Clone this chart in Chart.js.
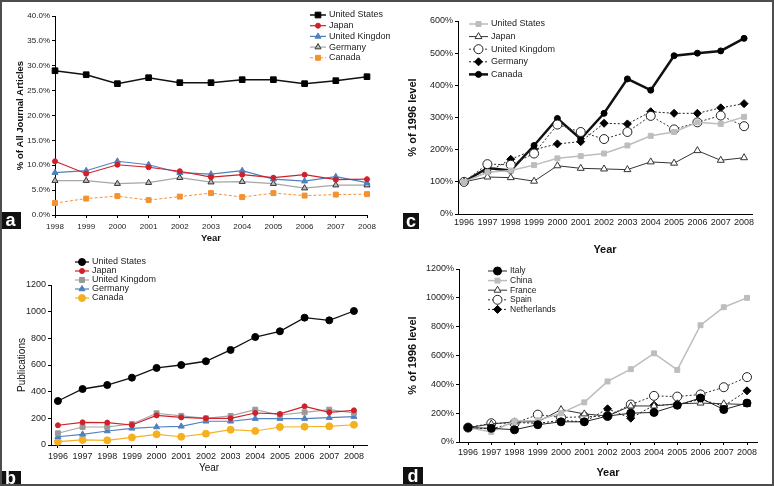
<!DOCTYPE html>
<html>
<head>
<meta charset="utf-8">
<script src="https://cdn.jsdelivr.net/npm/chart.js@4.4.1/dist/chart.umd.min.js"></script>
<style>
body { margin:0; background:#fff; width:774px; height:486px; position:relative; overflow:hidden; }
canvas { position:absolute; }
.frame { position:absolute; left:0; top:0; width:774px; height:486px; box-sizing:border-box; border:2px solid #4d4d4d; pointer-events:none; }
.tag { position:absolute; background:#111; color:#fff; font:bold 18px "Liberation Sans", Arial, sans-serif; text-align:center; }
</style>
</head>
<body>
<canvas id="chartA" width="390" height="245" style="left:0;top:0"></canvas>
<canvas id="chartC" width="384" height="258" style="left:390px;top:0"></canvas>
<canvas id="chartB" width="390" height="241" style="left:0;top:245px"></canvas>
<canvas id="chartD" width="384" height="241" style="left:390px;top:245px"></canvas>
<div class="tag" style="left:0;top:212px;width:21px;height:17px;line-height:17px">a</div>
<div class="tag" style="left:0;top:471px;width:21px;height:15px;line-height:15px">b</div>
<div class="tag" style="left:403px;top:213px;width:16px;height:16px;line-height:16px">c</div>
<div class="tag" style="left:403px;top:467px;width:20px;height:19px;line-height:19px">d</div>
<div class="frame"></div>
<script>
// years
const yearsA = [1998, 1999, 2000, 2001, 2002, 2003, 2004, 2005, 2006, 2007, 2008];
const years = [1996, 1997, 1998, 1999, 2000, 2001, 2002, 2003, 2004, 2005, 2006, 2007, 2008];

// a: share of all journal articles (%)
const shareUS = [29.0, 28.2, 26.4, 27.6, 26.6, 26.6, 27.2, 27.2, 26.4, 27.0, 27.8];
const shareJapan = [10.8, 8.3, 10.1, 9.6, 8.8, 7.6, 8.1, 7.5, 8.1, 7.1, 7.2];
const shareUK = [8.5, 8.9, 10.8, 10.1, 8.5, 8.2, 8.9, 7.2, 6.8, 7.7, 6.5];
const shareGermany = [6.9, 6.9, 6.3, 6.5, 7.5, 6.6, 6.7, 6.3, 5.4, 6.0, 6.0];
const shareCanada = [2.4, 3.3, 3.8, 3.0, 3.7, 4.4, 3.6, 4.4, 3.9, 4.1, 4.2];

// b: publications
const pubUS = [330, 420, 450, 505, 578, 600, 628, 713, 810, 853, 955, 935, 1005];
const pubJapan = [148, 170, 168, 150, 222, 207, 200, 200, 240, 233, 290, 245, 260];
const pubUK = [88, 135, 135, 158, 238, 218, 200, 218, 265, 225, 245, 265, 240];
const pubGermany = [62, 80, 105, 125, 135, 140, 178, 178, 198, 198, 198, 205, 213];
const pubCanada = [25, 38, 35, 57, 80, 62, 85, 115, 105, 135, 137, 140, 152];

// c: % of 1996 level
const relUS = [100, 130, 135, 152, 173, 180, 188, 213, 243, 255, 285, 280, 302];
const relJapan = [100, 115, 113, 102, 150, 142, 140, 138, 162, 158, 197, 167, 175];
const relUK = [100, 155, 153, 188, 278, 255, 233, 255, 305, 263, 285, 306, 273];
const relGermany = [100, 130, 170, 200, 218, 225, 282, 280, 318, 313, 313, 330, 343];
const relCanada = [100, 143, 135, 213, 297, 233, 313, 420, 385, 492, 500, 507, 546];

// d: % of 1996 level
const relItaly = [100, 95, 85, 120, 140, 140, 180, 200, 205, 255, 305, 225, 270];
const relChina = [100, 70, 145, 150, 200, 275, 420, 505, 615, 500, 810, 935, 1000];
const relFrance = [100, 125, 140, 140, 225, 195, 180, 250, 250, 265, 270, 265, 260];
const relSpain = [100, 130, 130, 190, 170, 175, 180, 260, 320, 315, 330, 380, 450];
const relNetherlands = [100, 90, 135, 130, 150, 140, 230, 165, 255, 260, 295, 250, 355];

const FONT = '"Liberation Sans", Arial, sans-serif';

// legend with a line sample and marker, like the original figure
const lineLegend = {
  id: 'lineLegend',
  afterDatasetsDraw(chart, args, opts) {
    const ctx = chart.ctx;
    chart.data.datasets.forEach((ds, i) => {
      const y = opts.y + i * opts.dy;
      ctx.save();
      ctx.strokeStyle = ds.borderColor;
      ctx.lineWidth = ds.borderWidth;
      ctx.setLineDash(ds.borderDash || []);
      ctx.beginPath();
      ctx.moveTo(opts.x, y);
      ctx.lineTo(opts.x + opts.len, y);
      ctx.stroke();
      ctx.setLineDash([]);
      ctx.fillStyle = ds.pointBackgroundColor;
      ctx.strokeStyle = ds.pointBorderColor;
      ctx.lineWidth = ds.pointBorderWidth;
      Chart.helpers.drawPoint(ctx, {
        pointStyle: ds.pointStyle, radius: ds.pointRadius, rotation: 0, borderWidth: ds.pointBorderWidth
      }, opts.x + opts.len / 2, y);
      ctx.fillStyle = '#222';
      ctx.font = opts.font;
      ctx.textBaseline = 'middle';
      ctx.textAlign = 'left';
      ctx.fillText(ds.label, opts.x + opts.len + opts.gap, y);
      ctx.restore();
    });
  }
};
Chart.register(lineLegend);

function series(label, xs, ys, st) {
  return Object.assign({
    label: label,
    data: xs.map((x, i) => ({ x: x, y: ys[i] })),
    borderWidth: 1,
    pointBorderWidth: 1,
    clip: false,
    tension: 0
  }, st, { pointHoverRadius: st.pointRadius });
}

function makeChart(id, datasets, c) {
  const canvas = document.getElementById(id);
  const w = canvas.width, h = canvas.height;
  const tickSize = c.tickSize || 9;
  return new Chart(canvas, {
    type: 'line',
    data: { datasets: datasets },
    options: {
      responsive: false,
      animation: false,
      events: [],
      layout: { padding: { left: 0, top: c.t, right: w - c.r, bottom: 0 } },
      plugins: {
        legend: { display: false },
        tooltip: { enabled: false },
        lineLegend: c.legend
      },
      scales: {
        x: {
          type: 'linear',
          min: c.xMin, max: c.xMax,
          afterBuildTicks: s => { s.ticks = c.xTicks.map(v => ({ value: v })); },
          afterFit: s => { s.height = h - c.b; },
          grid: { drawOnChartArea: false, color: '#000', tickLength: c.xTick, drawTicks: c.xTick > 0 },
          border: { color: '#000', width: 1 },
          ticks: { color: '#222', font: { family: FONT, size: tickSize }, padding: c.xPad, maxRotation: 0, autoSkip: false,
                   callback: v => String(v) },
          title: { display: true, text: 'Year', color: '#111',
                   font: { family: FONT, size: c.titleSize, weight: c.titleWeight },
                   padding: { top: 0, bottom: c.xTitlePad } }
        },
        y: {
          min: 0, max: c.yMax,
          afterFit: s => { s.width = c.l; },
          grid: { drawOnChartArea: false, color: '#000', tickLength: 3 },
          border: { color: '#000', width: 1 },
          ticks: { stepSize: c.yStep, color: '#222', font: { family: FONT, size: tickSize }, padding: c.yPad,
                   callback: c.yFmt },
          title: { display: true, text: c.yTitle, color: '#111',
                   font: { family: FONT, size: c.titleSize, weight: c.titleWeight },
                   padding: { top: c.yTitlePad, bottom: 0 } }
        }
      }
    }
  });
}

// panel a
makeChart('chartA', [
  series('United States', yearsA, shareUS, { borderColor: '#111', borderWidth: 1.5, pointStyle: 'rect', pointRadius: 4, pointBackgroundColor: '#000', pointBorderColor: '#000' }),
  series('Japan', yearsA, shareJapan, { borderColor: '#d0202a', borderWidth: 1.2, pointStyle: 'circle', pointRadius: 2.5, pointBackgroundColor: '#d0202a', pointBorderColor: '#d0202a' }),
  series('United Kingdom', yearsA, shareUK, { borderColor: '#4f81bd', borderWidth: 1.2, pointStyle: 'triangle', pointRadius: 3.5, pointBackgroundColor: '#4f81bd', pointBorderColor: '#4f81bd' }),
  series('Germany', yearsA, shareGermany, { borderColor: '#a6a6a6', borderWidth: 1.2, pointStyle: 'triangle', pointRadius: 3.5, pointBackgroundColor: '#bdbdbd', pointBorderColor: '#333' }),
  series('Canada', yearsA, shareCanada, { borderColor: '#f0923a', borderWidth: 1, borderDash: [3, 2], pointStyle: 'rect', pointRadius: 3.5, pointBackgroundColor: '#f39230', pointBorderColor: '#f39230' })
], {
  l: 55, r: 367, t: 16, b: 215, tickSize: 8,
  xMin: 1998, xMax: 2008, xTicks: yearsA, xTick: 3, xPad: 4,
  yMax: 40, yStep: 5, yFmt: v => v.toFixed(1) + '%', yPad: 2,
  yTitle: '% of All Journal Articles', yTitlePad: 15, xTitlePad: 1,
  titleSize: 9.5, titleWeight: 'bold',
  legend: { x: 310, y: 15, dy: 10.7, len: 16, gap: 3, font: '9px ' + FONT }
});

// panel b
makeChart('chartB', [
  series('United States', years, pubUS, { borderColor: '#111', borderWidth: 1.3, pointStyle: 'circle', pointRadius: 3.5, pointBackgroundColor: '#000', pointBorderColor: '#000' }),
  series('Japan', years, pubJapan, { borderColor: '#d0202a', borderWidth: 1.2, pointStyle: 'circle', pointRadius: 2.5, pointBackgroundColor: '#d0202a', pointBorderColor: '#d0202a' }),
  series('United Kingdom', years, pubUK, { borderColor: '#a6a6a6', borderWidth: 1.2, pointStyle: 'rect', pointRadius: 3.5, pointBackgroundColor: '#9a9a9a', pointBorderColor: '#9a9a9a' }),
  series('Germany', years, pubGermany, { borderColor: '#4f81bd', borderWidth: 1.2, pointStyle: 'triangle', pointRadius: 3.5, pointBackgroundColor: '#4f81bd', pointBorderColor: '#4f81bd' }),
  series('Canada', years, pubCanada, { borderColor: '#f5b020', borderWidth: 1.2, pointStyle: 'circle', pointRadius: 3.5, pointBackgroundColor: '#f5b020', pointBorderColor: '#f5b020' })
], {
  l: 51, r: 367, t: 40, b: 200,
  xMin: 1995.72, xMax: 2008.53, xTicks: years, xTick: 3, xPad: 3,
  yMax: 1200, yStep: 200, yFmt: v => String(v), yPad: 2,
  yTitle: 'Publications', yTitlePad: 16, xTitlePad: 12,
  titleSize: 10, titleWeight: 'normal',
  legend: { x: 75, y: 17, dy: 9, len: 14, gap: 3, font: '9px ' + FONT }
});

// panel c
makeChart('chartC', [
  series('United States', years, relUS, { borderColor: '#bdbdbd', borderWidth: 1.5, pointStyle: 'rect', pointRadius: 3.5, pointBackgroundColor: '#bdbdbd', pointBorderColor: '#bdbdbd' }),
  series('Japan', years, relJapan, { borderColor: '#333', borderWidth: 1, pointStyle: 'triangle', pointRadius: 4, pointBackgroundColor: '#fff', pointBorderColor: '#333' }),
  series('United Kingdom', years, relUK, { borderColor: '#333', borderWidth: 1, borderDash: [2, 2], pointStyle: 'circle', pointRadius: 4.5, pointBackgroundColor: '#fff', pointBorderColor: '#222' }),
  series('Germany', years, relGermany, { borderColor: '#222', borderWidth: 1, borderDash: [2, 2], pointStyle: 'rectRot', pointRadius: 4, pointBackgroundColor: '#000', pointBorderColor: '#000' }),
  series('Canada', years, relCanada, { borderColor: '#111', borderWidth: 2.5, pointStyle: 'circle', pointRadius: 3, pointBackgroundColor: '#000', pointBorderColor: '#000' })
], {
  l: 68, r: 362, t: 21, b: 214,
  xMin: 1995.74, xMax: 2008.34, xTicks: years, xTick: 0, xPad: 3,
  yMax: 600, yStep: 100, yFmt: v => v + '%', yPad: 2,
  yTitle: '% of 1996 level', yTitlePad: 16, xTitlePad: 1,
  titleSize: 11, titleWeight: 'bold',
  legend: { x: 79, y: 24, dy: 12.6, len: 19, gap: 3, font: '9px ' + FONT }
});

// panel d
makeChart('chartD', [
  series('Italy', years, relItaly, { borderColor: '#222', borderWidth: 1, pointStyle: 'circle', pointRadius: 4, pointBackgroundColor: '#000', pointBorderColor: '#000' }),
  series('China', years, relChina, { borderColor: '#bdbdbd', borderWidth: 1.5, pointStyle: 'rect', pointRadius: 3.5, pointBackgroundColor: '#bdbdbd', pointBorderColor: '#bdbdbd' }),
  series('France', years, relFrance, { borderColor: '#333', borderWidth: 1, pointStyle: 'triangle', pointRadius: 4, pointBackgroundColor: '#fff', pointBorderColor: '#333' }),
  series('Spain', years, relSpain, { borderColor: '#333', borderWidth: 1, borderDash: [2, 2], pointStyle: 'circle', pointRadius: 4.5, pointBackgroundColor: '#fff', pointBorderColor: '#222' }),
  series('Netherlands', years, relNetherlands, { borderColor: '#222', borderWidth: 1, borderDash: [2, 2], pointStyle: 'rectRot', pointRadius: 4, pointBackgroundColor: '#000', pointBorderColor: '#000' })
], {
  l: 69, r: 367, t: 24, b: 197,
  xMin: 1995.61, xMax: 2008.43, xTicks: years, xTick: 3, xPad: 2,
  yMax: 1200, yStep: 200, yFmt: v => v + '%', yPad: 2,
  yTitle: '% of 1996 level', yTitlePad: 16, xTitlePad: 6,
  titleSize: 11, titleWeight: 'bold',
  legend: { x: 98, y: 26, dy: 9.6, len: 19, gap: 3, font: '8.5px ' + FONT }
});
</script>
</body>
</html>
